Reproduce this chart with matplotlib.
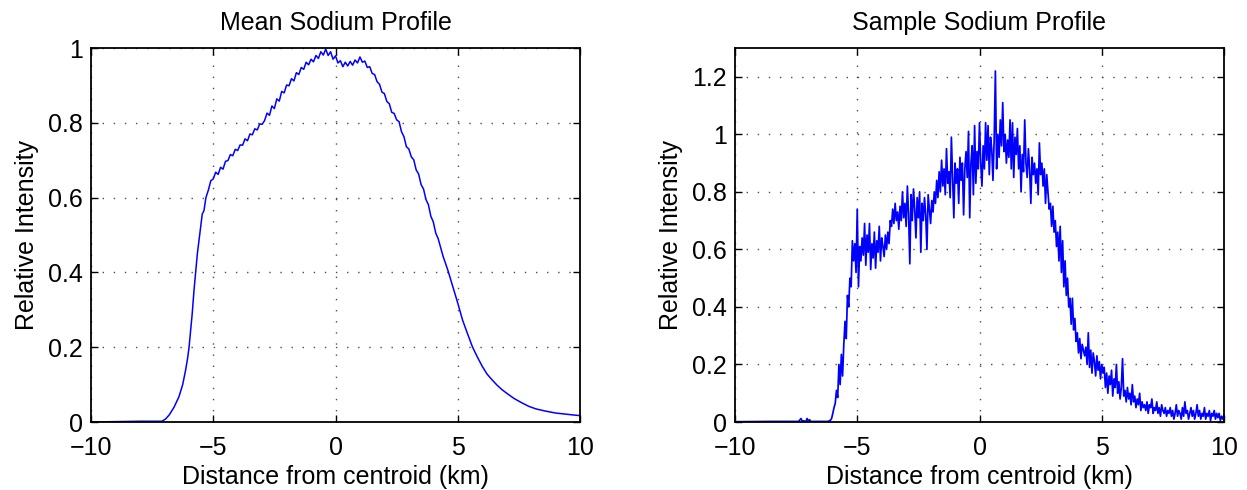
import matplotlib
matplotlib.use("Agg")
import matplotlib.pyplot as plt
import numpy as np

plt.rcParams['font.family'] = ['Liberation Sans', 'DejaVu Sans']
plt.rcParams['axes.unicode_minus'] = True

# ---------------- Left panel: mean sodium profile ----------------
mean_rise_x = [-10.0, -9.0, -8.0, -7.3, -7.1, -6.95, -6.8, -6.6, -6.4, -6.25, -6.13,
               -6.05, -5.99, -5.92, -5.86, -5.79, -5.72, -5.65, -5.58, -5.50, -5.45,
               -5.38, -5.30, -5.20, -5.10]
mean_rise_y = [0.000, 0.001, 0.002, 0.002, 0.002, 0.008, 0.019, 0.040, 0.068, 0.100, 0.139,
               0.170, 0.200, 0.250, 0.290, 0.350, 0.400, 0.450, 0.487, 0.530, 0.556,
               0.565, 0.600, 0.620, 0.645]

mean_core_x = [-5.0, -4.9, -4.8, -4.7, -4.6, -4.5, -4.4, -4.3, -4.2, -4.1,
               -4.0, -3.9, -3.8, -3.7, -3.6, -3.5, -3.4, -3.3, -3.2, -3.1,
               -3.0, -2.9, -2.8, -2.7, -2.6, -2.5, -2.4, -2.3, -2.2, -2.1,
               -2.0, -1.9, -1.8, -1.7, -1.6, -1.5, -1.4, -1.3, -1.2, -1.1,
               -1.0, -0.9, -0.8, -0.7, -0.6, -0.5, -0.4, -0.3, -0.2, -0.1,
               0.0, 0.1, 0.2, 0.3, 0.4, 0.5, 0.6, 0.7, 0.8, 0.9,
               1.0, 1.1, 1.2, 1.3, 1.4, 1.5, 1.6, 1.7, 1.8, 1.9,
               2.0, 2.1, 2.2, 2.3, 2.4, 2.5, 2.6, 2.7, 2.8, 2.9,
               3.0, 3.1, 3.2, 3.3, 3.4, 3.5, 3.6, 3.7, 3.8, 3.9,
               4.0, 4.1, 4.2]
mean_core_y = [0.650, 0.668, 0.662, 0.681, 0.676, 0.697, 0.699, 0.715, 0.712, 0.729,
               0.726, 0.741, 0.740, 0.757, 0.752, 0.770, 0.768, 0.784, 0.781, 0.797,
               0.796, 0.806, 0.826, 0.820, 0.845, 0.838, 0.864, 0.858, 0.884, 0.880,
               0.901, 0.899, 0.918, 0.912, 0.934, 0.929, 0.948, 0.943, 0.962, 0.955,
               0.970, 0.963, 0.980, 0.972, 0.990, 0.981, 0.997, 0.980, 0.990, 0.970,
               0.979, 0.960, 0.966, 0.950, 0.962, 0.952, 0.964, 0.954, 0.968, 0.960,
               0.976, 0.962, 0.965, 0.948, 0.950, 0.932, 0.929, 0.910, 0.903, 0.882,
               0.878, 0.857, 0.851, 0.828, 0.825, 0.808, 0.803, 0.776, 0.763, 0.736,
               0.730, 0.709, 0.701, 0.674, 0.663, 0.635, 0.623, 0.595, 0.581, 0.550,
               0.535, 0.505, 0.490]

mean_tail_x = [4.4, 4.6, 4.8, 5.0, 5.2, 5.4, 5.6, 5.8, 6.0, 6.2, 6.4, 6.6, 6.8,
               7.0, 7.3, 7.6, 7.9, 8.2, 8.6, 9.0, 9.4, 9.7, 10.0]
mean_tail_y = [0.443, 0.405, 0.362, 0.318, 0.272, 0.236, 0.201, 0.174, 0.149, 0.128,
               0.113, 0.099, 0.087, 0.077, 0.063, 0.052, 0.042, 0.035, 0.029, 0.024,
               0.021, 0.019, 0.017]

# ---------------- Right panel: sample sodium profile ----------------
sample_base_x = [-10.0, -8.5, -7.4, -7.3, -7.25, -7.2, -7.1, -7.05, -7.0, -6.95, -6.9, -6.5, -6.25]
sample_base_y = [0.001, 0.002, 0.002, 0.012, 0.003, 0.004, 0.002, 0.012, 0.002, 0.008, 0.002, 0.002, 0.002]

sample_start = -6.20
sample_step = 0.05
sample_y = [
    0.002, 0.004, 0.006, 0.012, 0.030, 0.050, 0.065, 0.110, 0.085, 0.200,
    0.130, 0.235, 0.160, 0.270, 0.350, 0.290, 0.440, 0.400, 0.500, 0.470,
    0.630, 0.560, 0.620, 0.520, 0.740, 0.470, 0.610, 0.560, 0.640, 0.580,
    0.690, 0.545, 0.650, 0.590, 0.690, 0.530, 0.620, 0.570, 0.660, 0.535,
    0.630, 0.590, 0.680, 0.560, 0.640, 0.610, 0.575, 0.650, 0.600, 0.660,
    0.620, 0.700, 0.680, 0.740, 0.690, 0.760, 0.700, 0.730, 0.670, 0.750,
    0.700, 0.800, 0.710, 0.760, 0.680, 0.820, 0.720, 0.550, 0.790, 0.700,
    0.810, 0.740, 0.640, 0.780, 0.710, 0.800, 0.590, 0.760, 0.700, 0.780,
    0.720, 0.600, 0.790, 0.740, 0.690, 0.770, 0.730, 0.800, 0.760, 0.840,
    0.780, 0.870, 0.800, 0.910, 0.820, 0.880, 0.790, 0.950, 0.830, 0.870,
    0.780, 0.990, 0.850, 0.710, 0.900, 0.830, 0.880, 0.760, 0.920, 0.840,
    0.900, 0.720, 0.880, 0.940, 0.850, 1.010, 0.710, 0.900, 0.960, 0.790,
    1.030, 0.830, 0.940, 0.880, 1.040, 0.900, 0.820, 0.960, 0.880, 1.040,
    0.910, 1.030, 0.860, 0.990, 0.950, 0.840, 0.980, 1.220, 0.880, 1.000,
    0.920, 1.050, 0.960, 1.110, 0.940, 1.000, 0.900, 0.980, 0.920, 1.050,
    0.880, 1.040, 0.850, 0.990, 0.930, 1.020, 0.880, 0.960, 0.800, 0.930,
    0.870, 1.050, 0.900, 0.850, 0.950, 0.880, 0.760, 0.920, 0.860, 0.900,
    0.830, 0.880, 0.790, 0.970, 0.860, 0.900, 0.820, 0.880, 0.760, 0.860,
    0.800, 0.740, 0.760, 0.680, 0.750, 0.660, 0.700, 0.610, 0.660, 0.560,
    0.680, 0.520, 0.630, 0.470, 0.560, 0.440, 0.500, 0.400, 0.430, 0.340,
    0.430, 0.320, 0.360, 0.280, 0.310, 0.240, 0.290, 0.220, 0.270, 0.250,
    0.230, 0.260, 0.200, 0.310, 0.190, 0.250, 0.170, 0.240, 0.210, 0.160,
    0.230, 0.180, 0.210, 0.150, 0.200, 0.170, 0.190, 0.120, 0.170, 0.100,
    0.160, 0.130, 0.180, 0.090, 0.150, 0.120, 0.200, 0.100, 0.140, 0.080,
    0.120, 0.220, 0.090, 0.110, 0.070, 0.120, 0.080, 0.100, 0.060, 0.130,
    0.070, 0.090, 0.050, 0.080, 0.060, 0.100, 0.040, 0.070, 0.050, 0.060,
    0.040, 0.070, 0.030, 0.060, 0.050, 0.080, 0.030, 0.050, 0.040, 0.070,
    0.030, 0.050, 0.020, 0.060, 0.040, 0.030, 0.050, 0.020, 0.040, 0.030,
    0.050, 0.020, 0.040, 0.010, 0.030, 0.060, 0.020, 0.040, 0.030, 0.010,
    0.050, 0.020, 0.070, 0.030, 0.040, 0.010, 0.030, 0.050, 0.020, 0.040,
    0.010, 0.030, 0.060, 0.020, 0.040, 0.010, 0.030, 0.020, 0.050, 0.010,
    0.030, 0.020, 0.040, 0.005, 0.030, 0.020, 0.040, 0.010, 0.030, 0.015,
    0.030, 0.005, 0.020, 0.010, 0.025,
]

x_ticks = [-10, -5, 0, 5, 10]
x_ticklabels = ['\u221210', '\u22125', '0', '5', '10']
left_yticks = [0, 0.2, 0.4, 0.6, 0.8, 1.0]
left_yticklabels = ['0', '0.2', '0.4', '0.6', '0.8', '1']
right_yticks = [0, 0.2, 0.4, 0.6, 0.8, 1.0, 1.2]
right_yticklabels = ['0', '0.2', '0.4', '0.6', '0.8', '1', '1.2']

titles = ['Mean Sodium Profile', 'Sample Sodium Profile']
xlabel = 'Distance from centroid (km)'
ylabel = 'Relative Intensity'

# ---------------- Build ----------------
mean_x = np.array(mean_rise_x + mean_core_x + mean_tail_x)
mean_y = np.array(mean_rise_y + mean_core_y + mean_tail_y)
samp_core_x = sample_start + sample_step * np.arange(len(sample_y))
samp_x = np.concatenate([sample_base_x, samp_core_x])
samp_y = np.concatenate([sample_base_y, sample_y])

FS = 18
fig = plt.figure(figsize=(12.47, 4.90), dpi=100)
axL = fig.add_axes([91 / 1247, 68 / 490, 489 / 1247, 374 / 490])
axR = fig.add_axes([735 / 1247, 68 / 490, 489 / 1247, 374 / 490])

def style(ax, yticks, yticklabels, ylim, title):
    ax.set_xlim(-10, 10)
    ax.set_ylim(*ylim)
    ax.set_xticks(x_ticks)
    ax.set_xticklabels(x_ticklabels)
    ax.set_yticks(yticks)
    ax.set_yticklabels(yticklabels)
    ax.tick_params(direction='in', length=5, width=1.0, top=True, right=True,
                   labelsize=FS, pad=6)
    ax.tick_params(axis='x', pad=10)
    for s in ax.spines.values():
        s.set_linewidth(1.3)
        s.set_color('black')
    ax.grid(True, color='0.3', linestyle=(0, (1, 7)), linewidth=1.0)
    ax.set_axisbelow(True)
    ax.set_title(title, fontsize=FS, pad=13)
    ax.set_xlabel(xlabel, fontsize=FS, labelpad=4)
    ax.set_ylabel(ylabel, fontsize=FS, labelpad=6)

axL.plot(mean_x, mean_y, color=(0, 0, 1), linewidth=1.1)
style(axL, left_yticks, left_yticklabels, (0, 1), titles[0])

axR.plot(samp_x, samp_y, color=(0, 0, 1), linewidth=1.25)
style(axR, right_yticks, right_yticklabels, (0, 1.3), titles[1])

fig.savefig('out.png', dpi=100)
